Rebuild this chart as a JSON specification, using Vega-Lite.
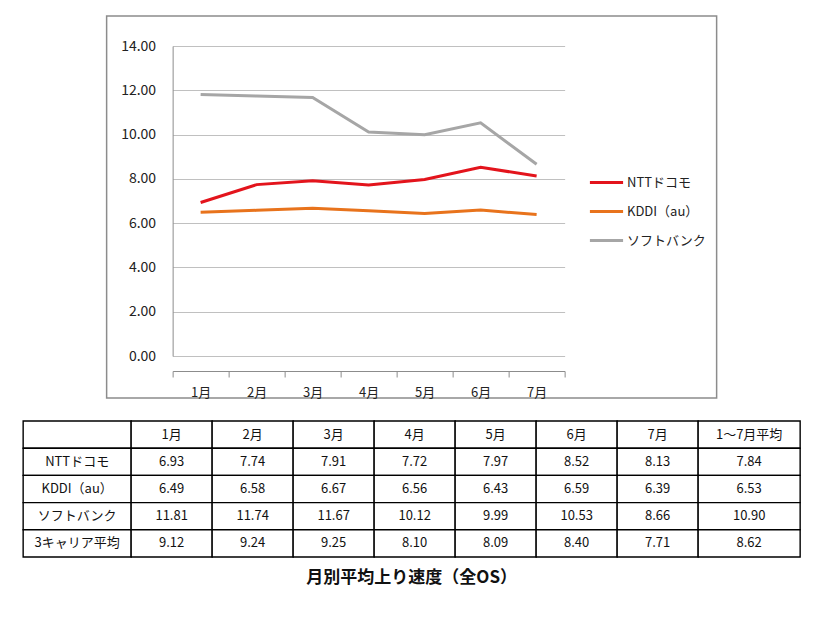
{
  "$schema": "https://vega.github.io/schema/vega-lite/v6.json",
  "padding": {"left": 22, "top": 15, "right": 0, "bottom": 12},
  "background": "white",
  "config": {"font": "Noto Sans CJK JP", "view": {"stroke": null}},
  "datasets": {
    "series": [
      {"carrier": "NTTドコモ", "m": 1, "value": 6.93},
      {"carrier": "NTTドコモ", "m": 2, "value": 7.74},
      {"carrier": "NTTドコモ", "m": 3, "value": 7.91},
      {"carrier": "NTTドコモ", "m": 4, "value": 7.72},
      {"carrier": "NTTドコモ", "m": 5, "value": 7.97},
      {"carrier": "NTTドコモ", "m": 6, "value": 8.52},
      {"carrier": "NTTドコモ", "m": 7, "value": 8.13},
      {"carrier": "KDDI（au）", "m": 1, "value": 6.49},
      {"carrier": "KDDI（au）", "m": 2, "value": 6.58},
      {"carrier": "KDDI（au）", "m": 3, "value": 6.67},
      {"carrier": "KDDI（au）", "m": 4, "value": 6.56},
      {"carrier": "KDDI（au）", "m": 5, "value": 6.43},
      {"carrier": "KDDI（au）", "m": 6, "value": 6.59},
      {"carrier": "KDDI（au）", "m": 7, "value": 6.39},
      {"carrier": "ソフトバンク", "m": 1, "value": 11.81},
      {"carrier": "ソフトバンク", "m": 2, "value": 11.74},
      {"carrier": "ソフトバンク", "m": 3, "value": 11.67},
      {"carrier": "ソフトバンク", "m": 4, "value": 10.12},
      {"carrier": "ソフトバンク", "m": 5, "value": 9.99},
      {"carrier": "ソフトバンク", "m": 6, "value": 10.53},
      {"carrier": "ソフトバンク", "m": 7, "value": 8.66}
    ],
    "cells": [
      {"row": "header", "col": "name", "text": ""},
      {"row": "header", "col": "1月", "text": "1月"},
      {"row": "header", "col": "2月", "text": "2月"},
      {"row": "header", "col": "3月", "text": "3月"},
      {"row": "header", "col": "4月", "text": "4月"},
      {"row": "header", "col": "5月", "text": "5月"},
      {"row": "header", "col": "6月", "text": "6月"},
      {"row": "header", "col": "7月", "text": "7月"},
      {"row": "header", "col": "avg", "text": "1～7月平均"},
      {"row": "NTTドコモ", "col": "name", "text": "NTTドコモ"},
      {"row": "NTTドコモ", "col": "1月", "text": "6.93"},
      {"row": "NTTドコモ", "col": "2月", "text": "7.74"},
      {"row": "NTTドコモ", "col": "3月", "text": "7.91"},
      {"row": "NTTドコモ", "col": "4月", "text": "7.72"},
      {"row": "NTTドコモ", "col": "5月", "text": "7.97"},
      {"row": "NTTドコモ", "col": "6月", "text": "8.52"},
      {"row": "NTTドコモ", "col": "7月", "text": "8.13"},
      {"row": "NTTドコモ", "col": "avg", "text": "7.84"},
      {"row": "KDDI（au）", "col": "name", "text": "KDDI（au）"},
      {"row": "KDDI（au）", "col": "1月", "text": "6.49"},
      {"row": "KDDI（au）", "col": "2月", "text": "6.58"},
      {"row": "KDDI（au）", "col": "3月", "text": "6.67"},
      {"row": "KDDI（au）", "col": "4月", "text": "6.56"},
      {"row": "KDDI（au）", "col": "5月", "text": "6.43"},
      {"row": "KDDI（au）", "col": "6月", "text": "6.59"},
      {"row": "KDDI（au）", "col": "7月", "text": "6.39"},
      {"row": "KDDI（au）", "col": "avg", "text": "6.53"},
      {"row": "ソフトバンク", "col": "name", "text": "ソフトバンク"},
      {"row": "ソフトバンク", "col": "1月", "text": "11.81"},
      {"row": "ソフトバンク", "col": "2月", "text": "11.74"},
      {"row": "ソフトバンク", "col": "3月", "text": "11.67"},
      {"row": "ソフトバンク", "col": "4月", "text": "10.12"},
      {"row": "ソフトバンク", "col": "5月", "text": "9.99"},
      {"row": "ソフトバンク", "col": "6月", "text": "10.53"},
      {"row": "ソフトバンク", "col": "7月", "text": "8.66"},
      {"row": "ソフトバンク", "col": "avg", "text": "10.90"},
      {"row": "3キャリア平均", "col": "name", "text": "3キャリア平均"},
      {"row": "3キャリア平均", "col": "1月", "text": "9.12"},
      {"row": "3キャリア平均", "col": "2月", "text": "9.24"},
      {"row": "3キャリア平均", "col": "3月", "text": "9.25"},
      {"row": "3キャリア平均", "col": "4月", "text": "8.10"},
      {"row": "3キャリア平均", "col": "5月", "text": "8.09"},
      {"row": "3キャリア平均", "col": "6月", "text": "8.40"},
      {"row": "3キャリア平均", "col": "7月", "text": "7.71"},
      {"row": "3キャリア平均", "col": "avg", "text": "8.62"}
    ]
  },
  "title": {
    "text": "月別平均上り速度（全OS）",
    "orient": "bottom",
    "anchor": "middle",
    "fontSize": 17,
    "fontWeight": "bold",
    "color": "#111111",
    "offset": 12
  },
  "spacing": 20,
  "center": true,
  "vconcat": [
    {
      "width": 610,
      "height": 382,
      "view": {"stroke": "#8c8c8c", "strokeWidth": 1.5},
      "data": {"name": "series"},
      "mark": {"type": "line", "strokeWidth": 3},
      "encoding": {
        "x": {
          "field": "m",
          "type": "quantitative",
          "scale": {"domain": [0.5, 7.5], "range": [66, 458], "nice": false, "zero": false},
          "axis": {
            "values": [0.5, 1.5, 2.5, 3.5, 4.5, 5.5, 6.5, 7.5],
            "labelExpr": "datum.value < 7 ? format(datum.value + 0.5, 'd') + '月' : ''",
            "labelOffset": 28,
            "offset": -27,
            "title": null,
            "grid": false,
            "domainColor": "#8c8c8c",
            "tickColor": "#8c8c8c",
            "tickSize": 6,
            "labelPadding": 9,
            "labelFontSize": 13,
            "labelColor": "#222222",
            "labelFlush": false,
            "labelOverlap": false,
            "labelBound": false
          }
        },
        "y": {
          "field": "value",
          "type": "quantitative",
          "scale": {"domain": [0, 14], "range": [340, 30], "nice": false},
          "axis": {
            "values": [0, 2, 4, 6, 8, 10, 12, 14],
            "format": ".2f",
            "offset": -66,
            "title": null,
            "domainColor": "#8c8c8c",
            "ticks": false,
            "grid": true,
            "gridColor": "#c0c0c0",
            "gridWidth": 1.2,
            "labelFontSize": 14,
            "labelColor": "#222222",
            "labelPadding": 17
          }
        },
        "color": {
          "field": "carrier",
          "type": "nominal",
          "scale": {
            "domain": ["NTTドコモ", "KDDI（au）", "ソフトバンク"],
            "range": ["#e3141c", "#e8731c", "#a6a6a6"]
          },
          "legend": {
            "orient": "none",
            "legendX": 565,
            "legendY": 148,
            "title": null,
            "symbolType": "stroke",
            "symbolSize": 1100,
            "symbolStrokeWidth": 3,
            "labelFontSize": 13,
            "labelColor": "#222222",
            "labelOffset": 2,
            "rowPadding": 3
          }
        }
      }
    },
    {
      "spacing": 0,
      "bounds": "flush",
      "hconcat": [
        {
          "width": 108,
          "height": 136,
          "data": {"name": "cells"},
          "transform": [{"filter": "datum.col === 'name'"}],
          "encoding": {
            "x": {"field": "col", "type": "nominal", "scale": {"paddingInner": 0, "paddingOuter": 0}, "axis": null},
            "y": {"field": "row", "type": "nominal", "scale": {"domain": ["header", "NTTドコモ", "KDDI（au）", "ソフトバンク", "3キャリア平均"], "paddingInner": 0, "paddingOuter": 0}, "axis": null}
          },
          "layer": [
            {"mark": {"type": "rect", "fill": "white", "stroke": "black", "strokeWidth": 1.4}},
            {"mark": {"type": "text", "fontSize": 13, "color": "#111111"}, "encoding": {"text": {"field": "text"}}}
          ]
        },
        {
          "width": 567,
          "height": 136,
          "data": {"name": "cells"},
          "transform": [{"filter": "datum.col !== 'name' && datum.col !== 'avg'"}],
          "encoding": {
            "x": {"field": "col", "type": "nominal", "scale": {"domain": ["1月", "2月", "3月", "4月", "5月", "6月", "7月"], "paddingInner": 0, "paddingOuter": 0}, "axis": null},
            "y": {"field": "row", "type": "nominal", "scale": {"domain": ["header", "NTTドコモ", "KDDI（au）", "ソフトバンク", "3キャリア平均"], "paddingInner": 0, "paddingOuter": 0}, "axis": null}
          },
          "layer": [
            {"mark": {"type": "rect", "fill": "white", "stroke": "black", "strokeWidth": 1.4}},
            {"mark": {"type": "text", "fontSize": 13, "color": "#111111"}, "encoding": {"text": {"field": "text"}}}
          ]
        },
        {
          "width": 102,
          "height": 136,
          "data": {"name": "cells"},
          "transform": [{"filter": "datum.col === 'avg'"}],
          "encoding": {
            "x": {"field": "col", "type": "nominal", "scale": {"paddingInner": 0, "paddingOuter": 0}, "axis": null},
            "y": {"field": "row", "type": "nominal", "scale": {"domain": ["header", "NTTドコモ", "KDDI（au）", "ソフトバンク", "3キャリア平均"], "paddingInner": 0, "paddingOuter": 0}, "axis": null}
          },
          "layer": [
            {"mark": {"type": "rect", "fill": "white", "stroke": "black", "strokeWidth": 1.4}},
            {"mark": {"type": "text", "fontSize": 13, "color": "#111111"}, "encoding": {"text": {"field": "text"}}}
          ]
        }
      ]
    }
  ]
}
